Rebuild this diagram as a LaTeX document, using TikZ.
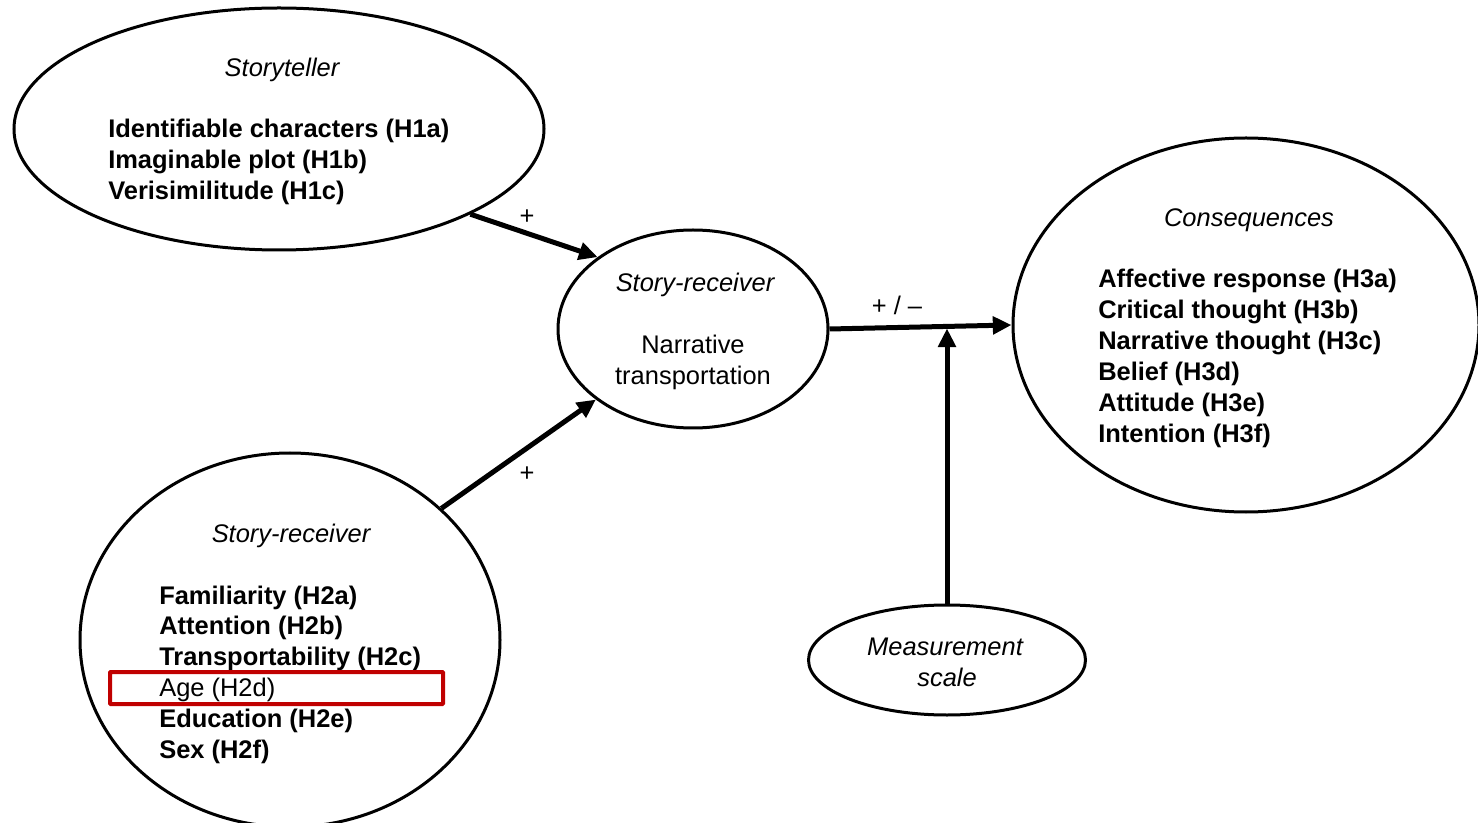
\documentclass[tikz,border=0pt]{standalone}
\usepackage{fontspec}
\setmainfont{Liberation Sans}
\usetikzlibrary{shapes.geometric,arrows.meta,calc}
\definecolor{boxred}{RGB}{192,0,0}

\begin{document}
\begin{tikzpicture}[x=0.75pt,y=-0.75pt,
  blob/.style={ellipse, draw, line width=2.25pt, inner sep=0pt},
  title/.style={font=\fontsize{19.1}{23}\selectfont\itshape, anchor=base, inner sep=0pt},
  plain/.style={font=\fontsize{19.1}{23}\selectfont, anchor=base, inner sep=0pt},
  item/.style={font=\fontsize{19.1}{23}\selectfont\bfseries, anchor=base west, inner sep=0pt},
  link/.style={line width=3.75pt, -{Triangle[length=14pt,width=13pt]}}]
\useasboundingbox (0,0) rectangle (1478,823);
% the five constructs
\node[blob, minimum width=397.5pt, minimum height=181.5pt] (teller) at (279,129){};
\node[blob, minimum width=202.5pt, minimum height=148.5pt] (recv) at (693,329){};
\node[blob, minimum width=349.5pt, minimum height=280.5pt] (conseq) at (1246,325){};
\node[blob, minimum width=315pt, minimum height=280.5pt] (receiver) at (290,640){};
\node[blob, minimum width=207.75pt, minimum height=82.5pt] (scale) at (947,660){};
% storyteller
\node[title] (teller-t) at (282,77){Storyteller};
\foreach \t [count=\i] in {Identifiable characters (H1a), Imaginable plot (H1b), Verisimilitude (H1c)}
  \node[item] (h1-\i) at (108,107+31*\i){\t};
% story-receiver (middle)
\node[title] (recv-t) at (695,292){Story-receiver};
\node[plain] (recv-a) at (693,354){Narrative};
\node[plain] (recv-b) at (693,385){transportation};
% consequences
\node[title] (conseq-t) at (1249,227){Consequences};
\foreach \t [count=\i] in {Affective response (H3a), Critical thought (H3b), Narrative thought (H3c), Belief (H3d), Attitude (H3e), Intention (H3f)}
  \node[item] (h3-\i) at (1098,257.2+30.8*\i){\t};
% story-receiver (bottom)
\node[title] (receiver-t) at (291,542){Story-receiver};
\foreach \t [count=\i] in {Familiarity (H2a), Attention (H2b), Transportability (H2c), {\mdseries Age (H2d)}, Education (H2e), Sex (H2f)}
  \node[item] (h2-\i) at (159,573.2+30.8*\i){\t};
\draw[boxred, line width=3pt, rounded corners=0.5pt] (110,672) rectangle (443,704);
% measurement scale
\node[title] (scale-a) at (945,655){Measurement};
\node[title] (scale-b) at (947,686){scale};
% paths
\draw[link] (teller.-24) -- (recv.143);
\draw[link] (receiver.41.6) -- (recv.216.8);
\draw[link] (recv.east) -- (conseq.west);
\coordinate (meet) at ($(recv.east)!0.643!(conseq.west)$);
\draw[link, shorten >=1.5pt] (scale.north) -- (scale.north |- meet);
\node[plain, anchor=center] (p1) at (527,217){+};
\node[plain, anchor=center] (p2) at (527,474){+};
\node[plain, anchor=center] (p3) at (897,305){+ / –};
\end{tikzpicture}
\end{document}
